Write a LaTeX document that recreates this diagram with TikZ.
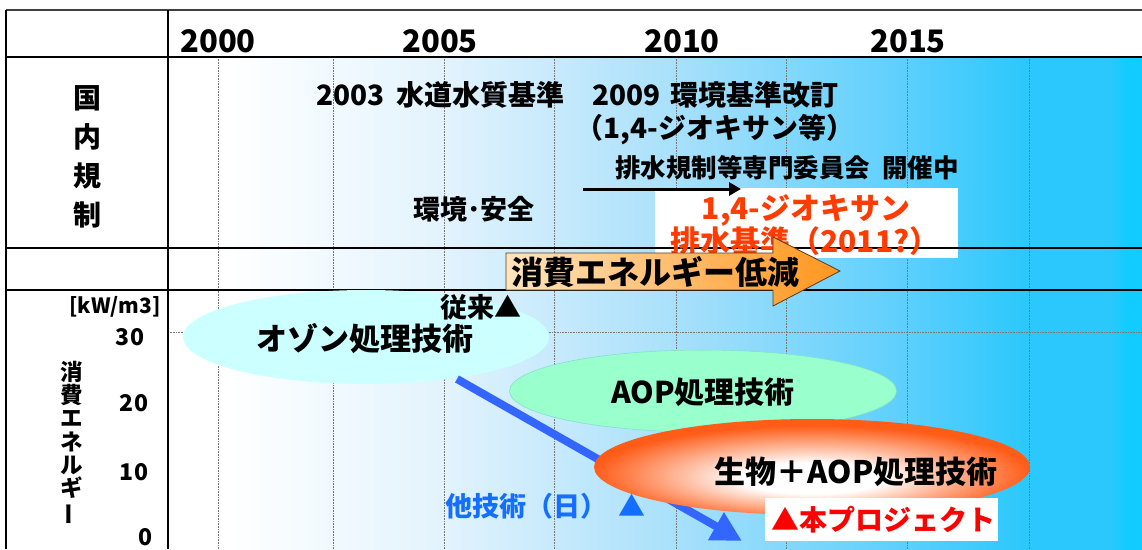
\documentclass[tikz,border=0pt]{standalone}
\usepackage{fontspec}
\setmainfont{Noto Sans CJK JP}
\usepackage{graphicx}
\usetikzlibrary{arrows.meta,shapes.geometric}
\definecolor{bgA}{RGB}{255,255,255}
\definecolor{bgB}{RGB}{226,243,253}
\definecolor{bgC}{RGB}{168,224,251}
\definecolor{bgD}{RGB}{92,207,253}
\definecolor{bgE}{RGB}{42,200,252}
\definecolor{bgF}{RGB}{18,204,255}
\definecolor{ozoneC}{RGB}{204,255,255}
\definecolor{aopC}{RGB}{153,255,204}
\definecolor{aopE}{RGB}{130,225,205}
\definecolor{glowO}{RGB}{255,92,24}
\definecolor{redT}{RGB}{255,60,0}
\definecolor{redP}{RGB}{255,0,0}
\definecolor{blueA}{RGB}{51,102,255}
\definecolor{blueT}{RGB}{20,110,255}
\definecolor{arrL}{RGB}{255,228,190}
\definecolor{arrR}{RGB}{255,150,30}
\definecolor{arrE}{RGB}{90,60,30}
\definecolor{gridC}{RGB}{120,120,120}
\pgfdeclarehorizontalshading{bgshade}{100bp}{color(0bp)=(bgA); color(25bp)=(bgA); color(28bp)=(bgA); color(39.2bp)=(bgB); color(51.1bp)=(bgC); color(62.9bp)=(bgD); color(69.2bp)=(bgE); color(73.4bp)=(bgE); color(74.2bp)=(bgF); color(100bp)=(bgF)}
\pgfdeclareradialshading{glow}{\pgfpoint{0bp}{-7bp}}{color(0bp)=(white); color(8bp)=(white); color(25bp)=(glowO); color(50bp)=(glowO)}
\begin{document}
\begin{tikzpicture}[x=1pt,y=-1pt,
  t/.style={inner sep=0pt, anchor=base, font=\bfseries\fontsize{#1}{#1}\selectfont},
  t/.default=28,
  gridline/.style={densely dotted, draw=gridC, line width=0.6pt},
  rule/.style={draw=black, line width=#1},
  blob/.style={ellipse, inner sep=0pt}]
\useasboundingbox (0,0) rectangle (1142,549);
\fill[white] (0,0) rectangle (1142,549);
\shade[shading=bgshade] (168,57) rectangle (1142,549);
% grid
\foreach \x in {218,333,444,554,676,786,907,1029} \draw[gridline] (\x,57) -- (\x,549);
\draw[gridline] (168,332) -- (1142,332);
% white box behind red text
\fill[white] (655,188) rectangle (958,258);
% table rules
\draw[rule=1.5pt, draw=black!75] (6,10) -- (1142,10);
\draw[rule=1.5pt] (6,10) -- (6,549);
\draw[rule=1.5pt] (168,10) -- (168,549);
\draw[rule=2pt] (6,57) -- (1142,57);
\draw[rule=1.6pt] (6,248) -- (1142,248);
\draw[rule=1.2pt] (6,290) -- (1142,290);
% years
\node[t=31] (y2000) at (218,52) {2000};
\node[t=31] (y2005) at (440,52) {2005};
\node[t=31] (y2010) at (682,52) {2010};
\node[t=31] (y2015) at (908,52) {2015};
% left column
\node[inner sep=0pt, align=center, font=\bfseries\fontsize{28}{39}\selectfont] (kokunai) at (87,157) {国\\内\\規\\制};
\node[t=21] (unit) at (115,313) {[kW/m3]};
\node[t=23] (v30) at (130,345) {30};
\node[t=23] (v20) at (134,411) {20};
\node[t=23] (v10) at (134,480) {10};
\node[t=23] (v0) at (146,545) {0};
\node[inner sep=0pt, align=center, font=\bfseries\fontsize{22.5}{23.3}\selectfont] (ylab) at (72,443.5) {消\\費\\エ\\ネ\\ル\\ギ\\\rotatebox[origin=c]{90}{ー}};
% regulation texts
\node[t=28, anchor=base west] (t2003) at (316,105) {2003};
\node[t=28, anchor=base west] (suido) at (396,105) {水道水質基準};
\node[t=28, anchor=base west] (t2009) at (592,105) {2009};
\node[t=28, anchor=base west] (kankyo) at (670,105) {環境基準改訂};
\node[t=28] (dioxane) at (715,138) {（1,4-ジオキサン等）};
\node[t=25.5] (iinkai) at (787,177) {排水規制等専門委員会\hspace{12pt}開催中};
\node[t=27] (anzen) at (474,219) {環境･安全};
\coordinate (ka) at (583,189);
\coordinate (kb) at (741,189);
\draw[line width=3pt, -{Triangle[length=12pt,width=13pt]}] (ka) -- (kb);
\node[t=30, text=redT] (red1) at (806,219) {1,4-ジオキサン};
\node[t=30, text=redT] (red2) at (805,252) {排水基準（2011?）};
% energy reduction arrow
\draw[draw=arrE, line width=0.8pt, left color=arrL, right color=arrR] (506,253) -- (773,253) -- (773,237) -- (840,271) -- (773,306) -- (773,290) -- (506,290) -- cycle;
\node[t=32] (teigen) at (655,284) {消費エネルギー低減};
% chart
\node[blob, fill=ozoneC, minimum width=366pt, minimum height=94pt] (ozone) at (366,337) {};
\coordinate (bstart) at (457,379);
\coordinate (bend) at (742,541);
\draw[draw=blueA, line width=8pt, -{Triangle[length=30pt,width=30pt]}] (bstart) -- (bend);
\node[blob, fill=aopC, draw=aopE, line width=0.6pt, minimum width=387pt, minimum height=82pt] (aop) at (703,391) {};
\node[blob, shade, shading=glow, minimum width=436pt, minimum height=96pt] (bio) at (812,467) {};
\fill[white] (765,498) rectangle (998,541);
\node[t=27] (juurai) at (481,317) {従来▲};
\node[t=31] (ozonet) at (365,350) {オゾン処理技術};
\node[t=30] (aopt) at (703,403) {AOP処理技術};
\node[t=31] (biot) at (856,483) {生物＋AOP処理技術};
\node[t=27, text=blueT] (other) at (526,516) {他技術（日）};
\node[t=27, text=blueT] (othermark) at (632,516) {▲};
\node[t=28, text=redP] (proj) at (883,530) {▲本プロジェクト};
\end{tikzpicture}
\end{document}
